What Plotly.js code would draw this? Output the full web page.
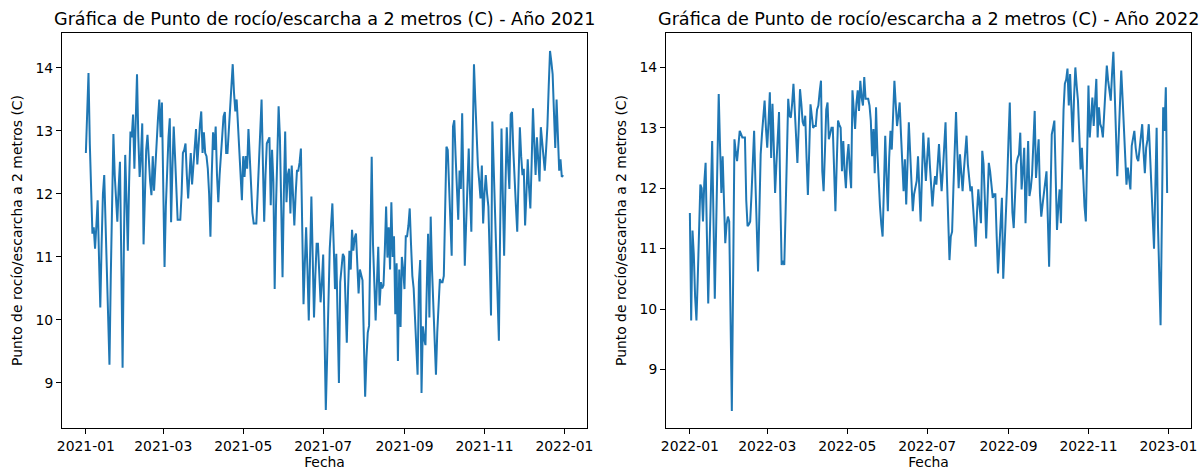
<!DOCTYPE html>
<html><head><meta charset="utf-8">
<script src="https://cdn.plot.ly/plotly-3.0.1.min.js"></script>
<style>html,body{margin:0;padding:0;background:#fff}#chart{width:1201px;height:470px}</style>
</head><body><div id="chart"></div>
<script>
// Start dates of each daily series
const start2021 = '2021-01-01';
const start2022 = '2022-01-01';

// Daily dew/frost point at 2 m (C), 2021
const dew2021 = [
12.65,13.4,13.92,12.8,11.9,11.37,11.47,11.13,11.5,11.9,
11.0,10.2,11.2,12.0,12.3,11.6,10.6,9.9,9.29,10.7,
12.0,12.95,12.3,11.9,11.56,12.1,12.51,11.0,9.24,11.2,
12.62,11.9,11.1,12.2,12.99,12.9,13.26,12.4,13.1,13.9,
12.9,12.27,12.6,13.12,11.2,12.0,12.7,12.94,12.5,12.2,
11.98,12.6,12.05,12.5,12.9,13.2,13.5,12.9,13.45,12.0,
10.84,11.8,12.5,12.9,13.2,11.55,12.4,13.07,12.6,12.0,
11.59,11.59,11.59,12.0,12.65,12.7,12.8,12.3,11.93,12.3,
12.65,12.15,12.4,12.7,13.03,12.47,12.9,13.1,13.31,12.65,
12.98,12.65,12.6,12.4,12.0,11.32,12.3,12.98,12.7,13.07,
12.3,11.87,12.3,12.6,12.9,13.23,13.3,12.65,12.65,13.0,
13.37,13.7,14.06,13.6,13.31,13.5,13.1,12.6,12.2,11.9,
12.6,12.27,12.6,12.4,13.03,12.5,12.1,11.7,11.53,11.53,
11.53,12.0,12.47,13.0,13.5,12.5,11.56,12.3,12.8,12.85,
12.9,11.82,12.7,12.2,10.49,11.8,12.9,13.39,12.9,11.7,
10.68,12.0,12.99,11.87,12.3,12.4,11.69,12.45,12.0,11.5,
12.0,12.37,12.37,12.5,12.72,11.5,10.25,10.9,11.47,10.8,
9.99,11.0,11.96,11.0,10.04,10.7,11.21,11.21,10.7,10.28,
10.6,11.04,9.8,8.57,9.4,10.4,11.13,11.5,11.85,11.2,
10.49,11.05,10.0,9.0,10.6,10.9,11.05,11.0,10.3,9.64,
10.5,11.1,10.8,11.43,11.1,11.3,11.37,10.9,10.42,10.8,
10.7,10.63,9.7,8.78,9.4,9.8,9.91,11.3,12.59,11.2,
10.5,9.99,10.6,11.16,10.23,10.6,10.5,10.55,11.1,11.8,
10.99,11.47,10.8,11.87,11.0,11.33,10.09,10.9,9.35,10.8,
9.89,11.0,10.8,10.49,11.33,11.33,11.5,11.77,11.2,10.7,
10.5,10.0,9.5,9.13,10.6,10.95,8.84,9.9,9.7,9.6,
10.5,11.37,10.04,11.64,10.8,10.2,9.6,9.13,9.8,10.3,
10.65,10.6,10.6,10.7,11.7,12.75,12.7,12.05,11.5,11.02,
13.07,13.17,12.6,12.0,11.59,12.37,12.08,13.28,12.0,10.86,
11.5,12.2,12.72,12.0,11.4,12.8,14.06,13.5,12.9,12.45,
12.2,11.93,12.45,11.53,12.0,12.3,12.0,11.8,11.0,10.07,
13.15,12.45,11.8,11.0,10.3,9.67,11.5,13.04,12.0,11.02,
12.1,13.06,12.5,12.08,13.26,13.3,12.7,12.14,11.8,11.4,
12.2,13.06,12.6,12.3,12.4,11.5,12.0,12.55,12.1,11.77,
12.5,13.36,12.8,12.3,12.9,12.6,12.2,13.06,12.8,12.6,
12.37,12.7,13.07,13.7,14.27,14.1,13.9,13.3,12.73,13.5,
12.9,12.37,12.55,12.27,12.3
];

// Daily dew/frost point at 2 m (C), 2022
const dew2022 = [
11.59,9.81,11.3,10.9,10.2,9.81,10.5,11.5,12.06,12.0,
11.45,12.1,12.42,11.2,10.09,11.0,11.9,12.78,11.5,10.17,
11.3,12.4,13.56,12.7,11.92,12.53,11.8,11.09,11.4,11.53,
11.45,9.9,8.31,10.5,12.81,12.6,12.45,12.7,12.95,12.9,
12.84,12.84,12.84,11.8,11.37,11.4,11.45,11.9,12.5,12.95,
12.1,11.3,10.62,11.6,12.56,12.9,13.2,13.45,13.0,12.67,
13.1,13.59,12.5,13.4,12.7,11.92,12.4,12.8,13.26,11.8,
10.73,10.8,10.73,11.6,12.6,13.48,13.2,13.17,13.4,13.73,
13.3,12.9,12.42,13.0,13.64,13.4,13.1,13.03,13.2,12.5,
11.89,12.6,13.39,13.2,13.0,13.03,13.03,13.3,13.37,13.6,
13.78,12.28,11.95,12.6,13.3,13.42,12.81,12.9,13.0,13.0,
12.3,11.62,12.4,13.12,13.05,13.0,12.28,12.78,12.3,12.0,
12.5,12.73,12.3,12.0,13.62,13.3,12.98,13.4,13.62,13.28,
13.78,13.5,13.37,13.84,13.48,13.48,13.48,13.37,13.12,12.53,
12.98,12.25,13.34,12.6,12.0,11.7,11.4,11.2,12.0,12.87,
12.2,11.62,12.5,12.95,12.64,13.2,13.78,13.4,13.03,13.2,
13.42,12.9,12.4,11.95,12.48,11.73,12.4,13.09,12.6,12.1,
11.62,11.9,12.03,12.12,12.53,12.0,11.45,12.2,12.92,12.5,
12.12,12.5,12.84,12.4,12.0,11.7,12.0,12.2,12.06,12.4,
12.73,12.3,11.95,12.3,12.7,13.09,12.2,11.4,10.81,11.2,
11.28,12.0,12.7,13.26,12.6,12.0,12.56,12.2,11.95,12.3,
12.6,12.87,12.4,12.12,11.95,12.03,11.7,11.4,11.03,11.6,
11.98,11.7,11.42,12.62,12.4,11.8,11.17,11.8,12.42,12.28,
12.1,11.84,11.9,11.9,11.2,10.59,11.0,11.48,11.84,10.5,
11.0,11.45,12.1,12.8,13.42,12.4,11.6,11.34,11.8,12.39,
12.5,12.56,12.92,11.98,12.3,12.67,11.42,12.1,12.78,11.87,
12.0,12.23,12.8,13.28,12.17,12.5,12.81,11.9,11.53,11.73,
11.9,12.1,12.28,11.5,10.7,11.8,12.89,13.0,13.12,12.2,
11.31,11.7,11.98,11.42,12.4,13.3,13.73,13.8,13.98,13.37,
13.89,13.3,12.76,13.5,14.0,13.7,13.45,12.9,12.31,12.67,
12.0,11.7,11.45,12.6,13.7,12.84,13.2,13.5,13.03,13.4,
13.81,12.84,13.34,13.06,13.0,12.84,13.3,13.7,14.03,13.78,
13.6,13.45,13.9,14.26,13.6,12.9,12.2,12.8,13.4,13.95,
13.5,13.06,12.5,12.06,12.34,12.2,11.98,12.7,12.8,12.95,
12.67,12.5,12.45,12.7,12.9,13.06,12.6,12.25,12.67,12.8,
13.06,12.5,12.0,11.5,11.0,12.0,13.0,11.4,10.3,9.73,
11.5,13.34,12.95,13.67,11.92
];

// Text
const titleLeft = 'Gráfica de Punto de rocío/escarcha a 2 metros (C) - Año 2021';
const titleRight = 'Gráfica de Punto de rocío/escarcha a 2 metros (C) - Año 2022';
const yLabel = 'Punto de rocío/escarcha a 2 metros (C)';
const xLabel = 'Fecha';

function dailyDates(start, n) {
  const out = [];
  const t0 = Date.parse(start + 'T00:00:00Z');
  for (let i = 0; i < n; i++) {
    out.push(new Date(t0 + i * 86400000).toISOString().slice(0, 10));
  }
  return out;
}

const lineStyle = {color: '#1f77b4', width: 2};
const traces = [
  {x: dailyDates(start2021, dew2021.length), y: dew2021, type: 'scatter', mode: 'lines',
   line: lineStyle, xaxis: 'x', yaxis: 'y', hoverinfo: 'x+y'},
  {x: dailyDates(start2022, dew2022.length), y: dew2022, type: 'scatter', mode: 'lines',
   line: lineStyle, xaxis: 'x2', yaxis: 'y2', hoverinfo: 'x+y'}
];

const tickFont = {family: 'DejaVu Sans', size: 13.9, color: '#000'};
const titleFont = {family: 'DejaVu Sans', size: 17.6, color: '#000'};
function xAxis(domain, range, tick0, anchor) {
  return {
    domain: domain, range: range, type: 'date', anchor: anchor,
    tick0: tick0, dtick: 'M2', tickformat: '%Y-%m',
    showgrid: false, zeroline: false,
    showline: true, mirror: true, linecolor: '#000', linewidth: 1,
    ticks: 'outside', ticklen: 5, tickwidth: 1, tickcolor: '#000',
    tickfont: tickFont,
    title: {text: xLabel, font: tickFont, standoff: 6}
  };
}
function yAxis(range, anchor) {
  return {
    range: range, anchor: anchor, dtick: 1, tick0: 0,
    showgrid: false, zeroline: false,
    showline: true, mirror: true, linecolor: '#000', linewidth: 1,
    ticks: 'outside', ticklen: 5, tickwidth: 1, tickcolor: '#000',
    tickfont: tickFont,
    title: {text: yLabel, font: tickFont, standoff: 9}
  };
}

const layout = {
  width: 1201, height: 470,
  margin: {l: 0, r: 0, t: 33, b: 42},
  paper_bgcolor: '#fff', plot_bgcolor: '#fff',
  showlegend: false,
  font: {family: 'DejaVu Sans', color: '#000'},
  xaxis: xAxis([62/1201, 587/1201], ['2020-12-13 19:00', '2022-01-18 05:00'], '2021-01-01', 'y'),
  yaxis: yAxis([8.285, 14.555], 'x'),
  xaxis2: xAxis([666/1201, 1191/1201], ['2021-12-13 19:00', '2023-01-18 05:00'], '2022-01-01', 'y2'),
  yaxis2: yAxis([8.03, 14.57], 'x2'),
  annotations: [
    {text: titleLeft, xref: 'x domain', x: 0.5, yref: 'paper', y: 1, yanchor: 'bottom', xanchor: 'center',
     yshift: 2, showarrow: false, font: titleFont},
    {text: titleRight, xref: 'x2 domain', x: 0.5, yref: 'paper', y: 1, yanchor: 'bottom', xanchor: 'center',
     yshift: 2, showarrow: false, font: titleFont}
  ]
};

Plotly.newPlot('chart', traces, layout, {staticPlot: true, displayModeBar: false});
</script>
</body></html>
